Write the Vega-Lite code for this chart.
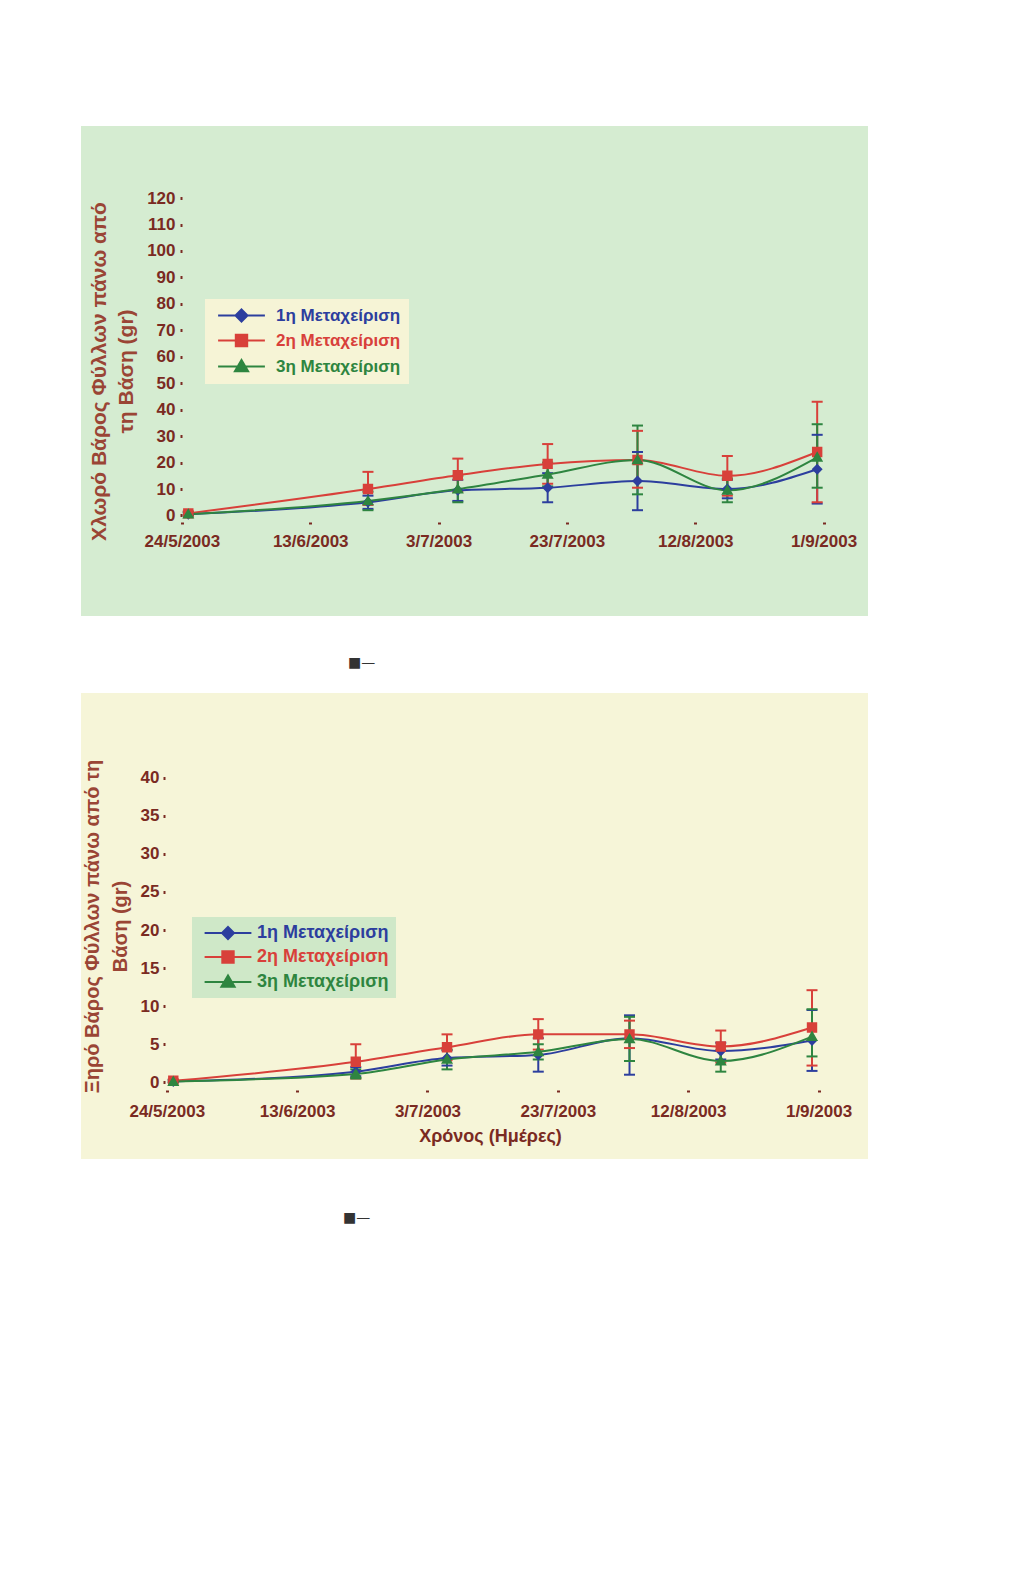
{
  "$schema": "https://vega.github.io/schema/vega-lite/v6.json",
  "background": "white",
  "padding": {"left": 81, "top": 126, "right": 0, "bottom": 0},
  "spacing": 23,
  "config": {"view": {"stroke": null}, "font": "Liberation Sans"},
  "resolve": {"scale": {"color": "independent", "shape": "independent", "x": "independent", "y": "independent"}, "legend": {"color": "independent", "shape": "independent"}},
  "vconcat": [
    {
      "width": 787,
      "height": 490,
      "view": {"fill": "#d5ecd1", "stroke": null},
      "title": {"text": "■—", "orient": "bottom", "anchor": "start", "dx": 267, "offset": 40, "font": "DejaVu Sans", "fontSize": 14, "fontWeight": "normal", "color": "#333333"},
      "data": {"values": [
        {"s": "1η Μεταχείριση", "d": "2003-05-25", "v": 0.5, "lo": 0, "hi": 1.2},
        {"s": "1η Μεταχείριση", "d": "2003-06-22", "v": 5.0, "lo": 2.5, "hi": 7.5},
        {"s": "1η Μεταχείριση", "d": "2003-07-06", "v": 9.5, "lo": 5.5, "hi": 13.5},
        {"s": "1η Μεταχείριση", "d": "2003-07-20", "v": 10.5, "lo": 5, "hi": 16},
        {"s": "1η Μεταχείριση", "d": "2003-08-03", "v": 13, "lo": 2, "hi": 24},
        {"s": "1η Μεταχείριση", "d": "2003-08-17", "v": 10, "lo": 6.5, "hi": 13.5},
        {"s": "1η Μεταχείριση", "d": "2003-08-31", "v": 17.5, "lo": 4.5, "hi": 30.5},
        {"s": "2η Μεταχείριση", "d": "2003-05-25", "v": 0.8, "lo": 0, "hi": 1.6},
        {"s": "2η Μεταχείριση", "d": "2003-06-22", "v": 10, "lo": 4, "hi": 16.5},
        {"s": "2η Μεταχείριση", "d": "2003-07-06", "v": 15.2, "lo": 9, "hi": 21.5},
        {"s": "2η Μεταχείριση", "d": "2003-07-20", "v": 19.5, "lo": 12, "hi": 27},
        {"s": "2η Μεταχείριση", "d": "2003-08-03", "v": 21, "lo": 10.5, "hi": 32},
        {"s": "2η Μεταχείριση", "d": "2003-08-17", "v": 15, "lo": 7.5, "hi": 22.5},
        {"s": "2η Μεταχείριση", "d": "2003-08-31", "v": 24, "lo": 5, "hi": 43},
        {"s": "3η Μεταχείριση", "d": "2003-05-25", "v": 0.5, "lo": 0, "hi": 1.2},
        {"s": "3η Μεταχείριση", "d": "2003-06-22", "v": 5.5, "lo": 2, "hi": 9},
        {"s": "3η Μεταχείριση", "d": "2003-07-06", "v": 10, "lo": 5, "hi": 15},
        {"s": "3η Μεταχείριση", "d": "2003-07-20", "v": 15.5, "lo": 11, "hi": 20},
        {"s": "3η Μεταχείριση", "d": "2003-08-03", "v": 21, "lo": 8, "hi": 34},
        {"s": "3η Μεταχείριση", "d": "2003-08-17", "v": 9.5, "lo": 5, "hi": 14},
        {"s": "3η Μεταχείριση", "d": "2003-08-31", "v": 22, "lo": 10.5, "hi": 34.5}
      ]},
      "encoding": {
        "x": {"field": "d", "type": "temporal",
          "scale": {"type": "utc", "domain": [{"year": 2003, "month": 5, "date": 8, "hours": 6, "minutes": 43, "utc": true}, {"year": 2003, "month": 9, "date": 7, "hours": 22, "minutes": 5, "utc": true}]},
          "axis": {"title": null,
            "values": [{"year": 2003, "month": 5, "date": 24, "utc": true}, {"year": 2003, "month": 6, "date": 13, "utc": true}, {"year": 2003, "month": 7, "date": 3, "utc": true}, {"year": 2003, "month": 7, "date": 23, "utc": true}, {"year": 2003, "month": 8, "date": 12, "utc": true}, {"year": 2003, "month": 9, "date": 1, "utc": true}],
            "labelExpr": "utcFormat(datum.value, '%-d/%-m/%Y')", "offset": -94, "domain": false, "grid": false,
            "tickSize": 2, "tickWidth": 3, "tickColor": "#7a2a22", "labelPadding": 9,
            "labelFont": "Liberation Sans", "labelFontSize": 17, "labelFontWeight": "bold", "labelColor": "#7a2a22", "labelFlush": false, "labelOverlap": false}},
        "color": {"field": "s", "type": "nominal", "scale": {"domain": ["1η Μεταχείριση", "2η Μεταχείριση", "3η Μεταχείριση"], "range": ["#2c3e9e", "#d8403a", "#2e8540"]},
          "legend": {"orient": "none", "legendX": 124, "legendY": 173, "title": null,
            "fillColor": "#f6f4d6", "padding": 8, "rowPadding": 4, "symbolOffset": 20,
            "labelFont": "Liberation Sans", "labelFontSize": 17, "labelFontWeight": "bold",
            "labelOffset": 26, "symbolSize": 144,
            "encode": {
              "symbols": {"update": {
                "stroke": {"signal": "datum.value === '1η Μεταχείριση' ? '#2c3e9e' : datum.value === '2η Μεταχείριση' ? '#d8403a' : '#2e8540'"},
                "strokeWidth": {"value": 2}, "opacity": {"value": 1}, "strokeOpacity": {"value": 1}}},
              "labels": {"update": {"fill": {"signal": "datum.value === '1η Μεταχείριση' ? '#2c3e9e' : datum.value === '2η Μεταχείριση' ? '#d8403a' : '#2e8540'"}}}
            }}}
      },
      "layer": [
        {"mark": {"type": "rule", "strokeWidth": 2},
          "encoding": {
            "y": {"field": "lo", "type": "quantitative",
              "scale": {"domain": [-38.0, 147.25], "nice": false, "zero": false},
              "axis": {"values": [0, 10, 20, 30, 40, 50, 60, 70, 80, 90, 100, 110, 120], "offset": -101, "domain": false, "grid": false,
                "tickSize": 2, "tickWidth": 3, "tickColor": "#7a2a22", "labelPadding": 5,
                "labelFont": "Liberation Sans", "labelFontSize": 17, "labelFontWeight": "bold", "labelColor": "#7a2a22",
                "title": ["Χλωρό Βάρος Φύλλων πάνω από", "τη Βάση (gr)"], "titleFont": "Liberation Sans", "titleFontSize": 21, "titleFontWeight": "bold", "titleColor": "#9a4535", "titlePadding": 10, "titleLineHeight": 27}},
            "y2": {"field": "hi"}
          }},
        {"mark": {"type": "tick", "orient": "horizontal", "size": 11, "thickness": 2, "opacity": 1},
          "encoding": {"y": {"field": "lo", "type": "quantitative"}}},
        {"mark": {"type": "tick", "orient": "horizontal", "size": 11, "thickness": 2, "opacity": 1},
          "encoding": {"y": {"field": "hi", "type": "quantitative"}}},
        {"mark": {"type": "line", "strokeWidth": 2, "interpolate": "monotone"},
          "encoding": {"y": {"field": "v", "type": "quantitative"}}},
        {"mark": {"type": "point", "filled": true, "opacity": 1, "size": 120},
          "encoding": {
            "y": {"field": "v", "type": "quantitative"},
            "shape": {"field": "s", "type": "nominal", "scale": {"domain": ["1η Μεταχείριση", "2η Μεταχείριση", "3η Μεταχείριση"], "range": ["M-3.9,0L3.9,0M0,-1L1,0L0,1L-1,0Z", "M-3.9,0L3.9,0M-0.95,-0.95L0.95,-0.95L0.95,0.95L-0.95,0.95Z", "M-3.9,0L3.9,0M0,-1.1L1.1,0.8L-1.1,0.8Z"]}}
          }}
      ]
    },
    {
      "width": 787,
      "height": 466,
      "view": {"fill": "#f6f5d8", "stroke": null},
      "title": {"text": "■—", "orient": "bottom", "anchor": "start", "dx": 262, "offset": 52, "font": "DejaVu Sans", "fontSize": 14, "fontWeight": "normal", "color": "#333333"},
      "data": {"values": [
        {"s": "1η Μεταχείριση", "d": "2003-05-25", "v": 0.1, "lo": 0, "hi": 0.3},
        {"s": "1η Μεταχείριση", "d": "2003-06-22", "v": 1.4, "lo": 0.8, "hi": 2.0},
        {"s": "1η Μεταχείριση", "d": "2003-07-06", "v": 3.2, "lo": 2.2, "hi": 4.2},
        {"s": "1η Μεταχείριση", "d": "2003-07-20", "v": 3.6, "lo": 1.4, "hi": 5.8},
        {"s": "1η Μεταχείριση", "d": "2003-08-03", "v": 5.8, "lo": 1.0, "hi": 8.8},
        {"s": "1η Μεταχείριση", "d": "2003-08-17", "v": 4.1, "lo": 3.0, "hi": 5.2},
        {"s": "1η Μεταχείριση", "d": "2003-08-31", "v": 5.5, "lo": 1.5, "hi": 9.5},
        {"s": "2η Μεταχείριση", "d": "2003-05-25", "v": 0.2, "lo": 0, "hi": 0.4},
        {"s": "2η Μεταχείριση", "d": "2003-06-22", "v": 2.7, "lo": 0.5, "hi": 5.0},
        {"s": "2η Μεταχείριση", "d": "2003-07-06", "v": 4.6, "lo": 2.9, "hi": 6.3},
        {"s": "2η Μεταχείριση", "d": "2003-07-20", "v": 6.3, "lo": 4.3, "hi": 8.3},
        {"s": "2η Μεταχείριση", "d": "2003-08-03", "v": 6.3, "lo": 4.5, "hi": 8.1},
        {"s": "2η Μεταχείριση", "d": "2003-08-17", "v": 4.7, "lo": 2.6, "hi": 6.8},
        {"s": "2η Μεταχείριση", "d": "2003-08-31", "v": 7.2, "lo": 2.2, "hi": 12.1},
        {"s": "3η Μεταχείριση", "d": "2003-05-25", "v": 0.1, "lo": 0, "hi": 0.3},
        {"s": "3η Μεταχείριση", "d": "2003-06-22", "v": 1.1, "lo": 0.5, "hi": 1.7},
        {"s": "3η Μεταχείριση", "d": "2003-07-06", "v": 3.0, "lo": 1.7, "hi": 4.3},
        {"s": "3η Μεταχείριση", "d": "2003-07-20", "v": 4.0, "lo": 3.0, "hi": 5.0},
        {"s": "3η Μεταχείριση", "d": "2003-08-03", "v": 5.7, "lo": 2.8, "hi": 8.6},
        {"s": "3η Μεταχείριση", "d": "2003-08-17", "v": 2.8, "lo": 1.4, "hi": 4.2},
        {"s": "3η Μεταχείριση", "d": "2003-08-31", "v": 6.0, "lo": 3.4, "hi": 9.6}
      ]},
      "encoding": {
        "x": {"field": "d", "type": "temporal",
          "scale": {"type": "utc", "domain": [{"year": 2003, "month": 5, "date": 10, "hours": 20, "minutes": 10, "utc": true}, {"year": 2003, "month": 9, "date": 8, "hours": 14, "minutes": 10, "utc": true}]},
          "axis": {"title": "Χρόνος (Ημέρες)", "titleFont": "Liberation Sans", "titleFontSize": 18, "titleFontWeight": "bold", "titleColor": "#7a2a22", "titlePadding": 8, "titleX": 409,
            "values": [{"year": 2003, "month": 5, "date": 24, "utc": true}, {"year": 2003, "month": 6, "date": 13, "utc": true}, {"year": 2003, "month": 7, "date": 3, "utc": true}, {"year": 2003, "month": 7, "date": 23, "utc": true}, {"year": 2003, "month": 8, "date": 12, "utc": true}, {"year": 2003, "month": 9, "date": 1, "utc": true}],
            "labelExpr": "utcFormat(datum.value, '%-d/%-m/%Y')", "offset": -69, "domain": false, "grid": false,
            "tickSize": 2, "tickWidth": 3, "tickColor": "#7a2a22", "labelPadding": 11,
            "labelFont": "Liberation Sans", "labelFontSize": 17, "labelFontWeight": "bold", "labelColor": "#7a2a22", "labelFlush": false, "labelOverlap": false}},
        "color": {"field": "s", "type": "nominal", "scale": {"domain": ["1η Μεταχείριση", "2η Μεταχείριση", "3η Μεταχείριση"], "range": ["#2c3e9e", "#d8403a", "#2e8540"]},
          "legend": {"orient": "none", "legendX": 111, "legendY": 224, "title": null,
            "fillColor": "#cfe8c8", "padding": 7, "rowPadding": 4, "symbolOffset": 20,
            "labelFont": "Liberation Sans", "labelFontSize": 18, "labelFontWeight": "bold",
            "labelOffset": 20, "symbolSize": 144,
            "encode": {
              "symbols": {"update": {
                "stroke": {"signal": "datum.value === '1η Μεταχείριση' ? '#2c3e9e' : datum.value === '2η Μεταχείριση' ? '#d8403a' : '#2e8540'"},
                "strokeWidth": {"value": 2}, "opacity": {"value": 1}, "strokeOpacity": {"value": 1}}},
              "labels": {"update": {"fill": {"signal": "datum.value === '1η Μεταχείριση' ? '#2c3e9e' : datum.value === '2η Μεταχείριση' ? '#d8403a' : '#2e8540'"}}}
            }}}
      },
      "layer": [
        {"mark": {"type": "rule", "strokeWidth": 2},
          "encoding": {
            "y": {"field": "lo", "type": "quantitative",
              "scale": {"domain": [-10.07, 51.13], "nice": false, "zero": false},
              "axis": {"values": [0, 5, 10, 15, 20, 25, 30, 35, 40], "offset": -84, "domain": false, "grid": false,
                "tickSize": 2, "tickWidth": 3, "tickColor": "#7a2a22", "labelPadding": 4,
                "labelFont": "Liberation Sans", "labelFontSize": 17, "labelFontWeight": "bold", "labelColor": "#7a2a22",
                "title": ["Ξηρό Βάρος Φύλλων πάνω από τη", "Βάση (gr)"], "titleFont": "Liberation Sans", "titleFontSize": 20, "titleFontWeight": "bold", "titleColor": "#9a4535", "titlePadding": 10, "titleLineHeight": 28}},
            "y2": {"field": "hi"}
          }},
        {"mark": {"type": "tick", "orient": "horizontal", "size": 11, "thickness": 2, "opacity": 1},
          "encoding": {"y": {"field": "lo", "type": "quantitative"}}},
        {"mark": {"type": "tick", "orient": "horizontal", "size": 11, "thickness": 2, "opacity": 1},
          "encoding": {"y": {"field": "hi", "type": "quantitative"}}},
        {"mark": {"type": "line", "strokeWidth": 2, "interpolate": "monotone"},
          "encoding": {"y": {"field": "v", "type": "quantitative"}}},
        {"mark": {"type": "point", "filled": true, "opacity": 1, "size": 120},
          "encoding": {
            "y": {"field": "v", "type": "quantitative"},
            "shape": {"field": "s", "type": "nominal", "scale": {"domain": ["1η Μεταχείριση", "2η Μεταχείριση", "3η Μεταχείριση"], "range": ["M-3.9,0L3.9,0M0,-1L1,0L0,1L-1,0Z", "M-3.9,0L3.9,0M-0.95,-0.95L0.95,-0.95L0.95,0.95L-0.95,0.95Z", "M-3.9,0L3.9,0M0,-1.1L1.1,0.8L-1.1,0.8Z"]}}
          }}
      ]
    }
  ]
}
